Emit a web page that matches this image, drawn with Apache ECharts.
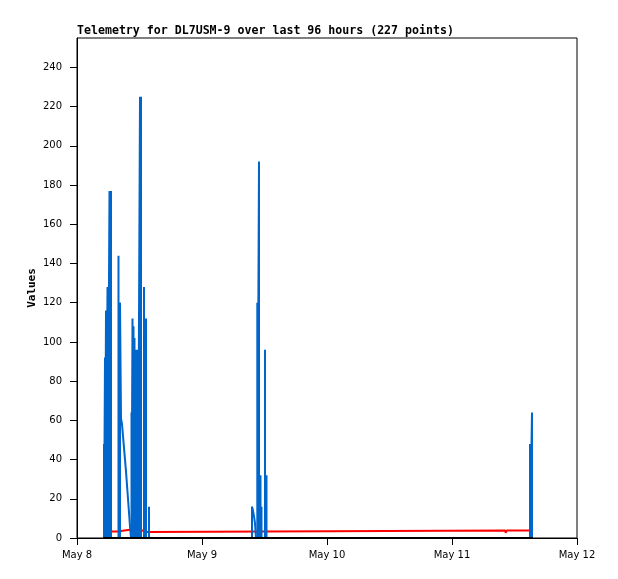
<!DOCTYPE html>
<html lang="en">
<head>
    <meta charset="UTF-8">
    <title>Telemetry</title>
    <style>
        html, body { margin: 0; padding: 0; background: #fff; }
    </style>
</head>
<body>
<div id="main" style="width: 618px;height:579px;"></div>
<script src="https://cdn.jsdelivr.net/npm/echarts@6/dist/echarts.min.js"></script>
<script type="text/javascript">
    // x values are hours since May 8 00:00
    var dayLabels = ['May 8', 'May 9', 'May 10', 'May 11', 'May 12'];
    var dayTicks = [0, 24, 48, 72, 96];
    var valueTicks = [0, 20, 40, 60, 80, 100, 120, 140, 160, 180, 200, 220, 240];

    // blue samples that jump from 0 up to a value and back
    var spikeHours = [
        5.184, 5.376, 5.568, 5.856, 6.24, 6.528,
        7.968, 8.256,
        10.464, 10.656, 10.848, 11.04, 11.232, 11.424, 11.616, 11.712, 12.096, 12.288,
        12.864, 13.248, 13.824,
        33.6, 34.618, 34.944, 35.232, 35.424, 36.096, 36.384,
        86.976, 87.36
    ];
    var spikeValues = [
        48, 92, 116, 128, 177, 177,
        144, 120,
        64, 112, 108, 102, 96, 88, 96, 96, 225, 225,
        128, 112, 16,
        16, 120, 192, 32, 16, 96, 32,
        48, 64
    ];

    // blue slow decays after a spike
    var decay1Hours = [8.256, 8.448, 8.64, 8.736, 8.832, 9.024, 9.216, 9.408, 9.6, 9.792, 9.984, 10.176, 10.368];
    var decay1Values = [120, 61, 58, 55, 52, 46, 40, 34, 27, 20, 13, 6, 0];
    var decay2Hours = [33.6, 33.792, 33.984, 34.176, 34.368];
    var decay2Values = [16, 14, 11, 7.5, 0];

    var redHours = [6.6, 7.7, 7.8, 10.5, 10.6, 12.5, 12.6, 13.6, 13.7, 82.25, 82.3, 82.45, 82.5, 87.55];
    var redValues = [3.3, 3.3, 4.3, 4.3, 3.8, 3.8, 3.0, 3.0, 3.8, 3.8, 2.6, 2.6, 3.8, 3.8];

    var blackHours = [5.0, 87.55];
    var blackValues = [0, 0];

    function pairs(xs, ys) {
        var out = [];
        for (var i = 0; i < xs.length; i++) {
            out.push([xs[i], ys[i]]);
        }
        return out;
    }

    // each spike: up from the baseline and straight back down
    function spikes(xs, ys) {
        var out = [];
        for (var i = 0; i < xs.length; i++) {
            out.push([xs[i], 0], [xs[i], ys[i]], [xs[i], 0]);
        }
        return out;
    }

    var blue = '#0066cc';
    var myChart = echarts.init(document.getElementById('main'));
    myChart.setOption({
        animation: false,
        backgroundColor: '#fff',
        title: {
            text: 'Telemetry for DL7USM-9 over last 96 hours (227 points)',
            left: 77,
            top: 25,
            padding: 0,
            textStyle: {
                fontFamily: 'DejaVu Sans Mono',
                fontWeight: 'bold',
                fontSize: 11.6,
                color: '#000'
            }
        },
        grid: {
            left: 77,
            right: 41,
            top: 38,
            bottom: 41,
            show: true,
            borderColor: '#000',
            borderWidth: 1,
            containLabel: false
        },
        xAxis: {
            type: 'value',
            min: 0,
            max: 96,
            interval: 24,
            axisLine: { show: true, lineStyle: { color: '#000', width: 1 } },
            axisTick: {
                show: true,
                length: 7,
                lineStyle: { color: '#000' },
                customValues: dayTicks
            },
            axisLabel: {
                margin: 12,
                color: '#000',
                fontFamily: 'DejaVu Sans',
                fontSize: 10,
                customValues: dayTicks,
                formatter: function (v) {
                    return dayLabels[dayTicks.indexOf(v)];
                }
            },
            splitLine: { show: false }
        },
        yAxis: {
            type: 'value',
            min: 0,
            max: 255,
            interval: 20,
            name: 'Values',
            nameLocation: 'middle',
            nameGap: 39,
            nameMoveOverlap: false,
            nameTextStyle: {
                fontFamily: 'DejaVu Sans Mono',
                fontWeight: 'bold',
                fontSize: 11,
                color: '#000'
            },
            axisLine: { show: true, lineStyle: { color: '#000', width: 1 } },
            axisTick: {
                show: true,
                length: 7,
                lineStyle: { color: '#000' },
                customValues: valueTicks
            },
            axisLabel: {
                margin: 15,
                color: '#000',
                fontFamily: 'DejaVu Sans',
                fontSize: 10,
                customValues: valueTicks
            },
            splitLine: { show: false }
        },
        series: [
            {
                name: 'red',
                type: 'line',
                data: pairs(redHours, redValues),
                symbol: 'none',
                lineStyle: { color: '#ff0000', width: 2 },
                z: 2
            },
            {
                name: 'spikes',
                type: 'line',
                data: spikes(spikeHours, spikeValues),
                symbol: 'none',
                lineStyle: { color: blue, width: 2, join: 'bevel', cap: 'butt' },
                z: 3
            },
            {
                name: 'decay1',
                type: 'line',
                data: pairs(decay1Hours, decay1Values),
                symbol: 'none',
                lineStyle: { color: blue, width: 2 },
                z: 3
            },
            {
                name: 'decay2',
                type: 'line',
                data: pairs(decay2Hours, decay2Values),
                symbol: 'none',
                lineStyle: { color: blue, width: 2 },
                z: 3
            },
            {
                name: 'black',
                type: 'line',
                data: pairs(blackHours, blackValues),
                symbol: 'none',
                lineStyle: { color: '#000000', width: 2 },
                z: 4
            }
        ]
    });
</script>
</body>
</html>
